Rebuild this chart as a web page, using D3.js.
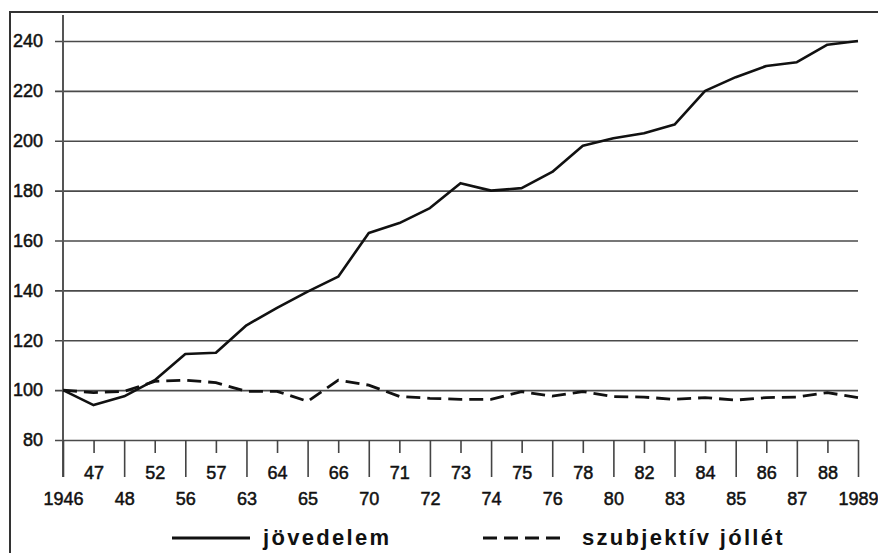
<!DOCTYPE html>
<html>
<head>
<meta charset="utf-8">
<script src="https://cdn.jsdelivr.net/npm/d3@7"></script>
<style>
  body { margin: 0; background: #fff; }
  svg { display: block; font-family: "Liberation Sans", Arial, sans-serif; }
</style>
</head>
<body>
<svg id="chart" width="878" height="553"></svg>
<script>
// years on the x axis (27 points, labels alternate between two rows)
const years = ['1946','47','48','52','56','57','63','64','65','66','70','71','72','73',
               '74','75','76','78','80','82','83','84','85','86','87','88','1989']

// jövedelem (income index, 1946 = 100)
const income = [100, 94, 97.5, 104, 114.5, 115, 126, 133, 139.5, 145.5, 163, 167, 173, 183,
                180, 181, 187.5, 198, 201, 203, 206.5, 220, 225.5, 230, 231.5, 238.5, 240]

// szubjektív jóllét (subjective well-being index)
const wellbeing = [100, 99, 99.5, 103.5, 104, 103, 99.5, 99.5, 95.5, 104, 102, 97.5, 96.7, 96.3,
                   96.3, 99.4, 97.6, 99.4, 97.4, 97.2, 96.3, 97, 96, 97, 97.2, 99, 97]

const yTicks = [80, 100, 120, 140, 160, 180, 200, 220, 240]

const legendItems = [
	{ label: 'jövedelem', dash: null, x1: 172, x2: 250, tx: 263 },
	{ label: 'szubjektív jóllét', dash: '14,7', x1: 483, x2: 563, tx: 582 }
]

const svg = d3.select('#chart')

// scanned page frame (top + left edge)
svg.append('path')
	.attr('d', 'M10,553 V12 H878')
	.attr('fill', 'none')
	.attr('stroke', '#333')
	.attr('stroke-width', 2)

const x = d3.scalePoint()
	.domain(years)
	.range([63, 858])

const y = d3.scaleLinear()
	.domain([80, 240])
	.range([440, 41])

// horizontal gridlines + y labels
const yAxis = svg.append('g')
	.attr('transform', 'translate(858,0)')
	.call(d3.axisLeft(y).tickValues(yTicks).tickSize(803).tickPadding(12))
yAxis.select('.domain').remove()
yAxis.selectAll('line')
	.attr('stroke', '#4a4a4a')
	.attr('stroke-width', 1.6)
yAxis.selectAll('text')
	.attr('fill', '#111')
	.attr('stroke', '#111')
	.attr('stroke-width', 0.5)
	.style('font-size', '18px')

// vertical axis line
svg.append('line')
	.attr('x1', x(years[0])).attr('x2', x(years[0]))
	.attr('y1', 15).attr('y2', 477)
	.attr('stroke', '#555')
	.attr('stroke-width', 2)

// x axis, long ticks for the lower row, short ones for the upper row
const xAxis = svg.append('g')
	.attr('transform', 'translate(0,440)')
	.call(d3.axisBottom(x).tickSizeOuter(0))
xAxis.select('.domain').remove()
xAxis.selectAll('.tick line')
	.attr('stroke', '#444')
	.attr('stroke-width', 1.6)
	.attr('y2', (d, i) => i % 2 === 0 ? 37 : 13)
xAxis.selectAll('.tick text')
	.attr('fill', '#111')
	.attr('stroke', '#111')
	.attr('stroke-width', 0.5)
	.attr('dy', 0)
	.attr('y', (d, i) => i % 2 === 0 ? 65 : 39)
	.style('font-size', '18px')

const line = d3.line()
	.x((d, i) => x(years[i]))
	.y(d => y(d))

svg.append('path')
	.datum(income)
	.attr('d', line)
	.attr('fill', 'none')
	.attr('stroke', '#111')
	.attr('stroke-width', 2.6)
	.attr('stroke-linejoin', 'round')

svg.append('path')
	.datum(wellbeing)
	.attr('d', line)
	.attr('fill', 'none')
	.attr('stroke', '#111')
	.attr('stroke-width', 2.8)
	.attr('stroke-dasharray', '14,7')

// legend
const legend = svg.append('g')
legend.selectAll('line')
	.data(legendItems)
	.join('line')
		.attr('x1', d => d.x1)
		.attr('x2', d => d.x2)
		.attr('y1', 538)
		.attr('y2', 538)
		.attr('stroke', '#111')
		.attr('stroke-width', 2.8)
		.attr('stroke-dasharray', d => d.dash)
legend.selectAll('text')
	.data(legendItems)
	.join('text')
		.attr('x', d => d.tx)
		.attr('y', 545)
		.attr('fill', '#111')
		.style('font-size', '22px')
		.style('font-weight', 'bold')
		.style('letter-spacing', '2.3px')
		.text(d => d.label)
</script>
</body>
</html>
